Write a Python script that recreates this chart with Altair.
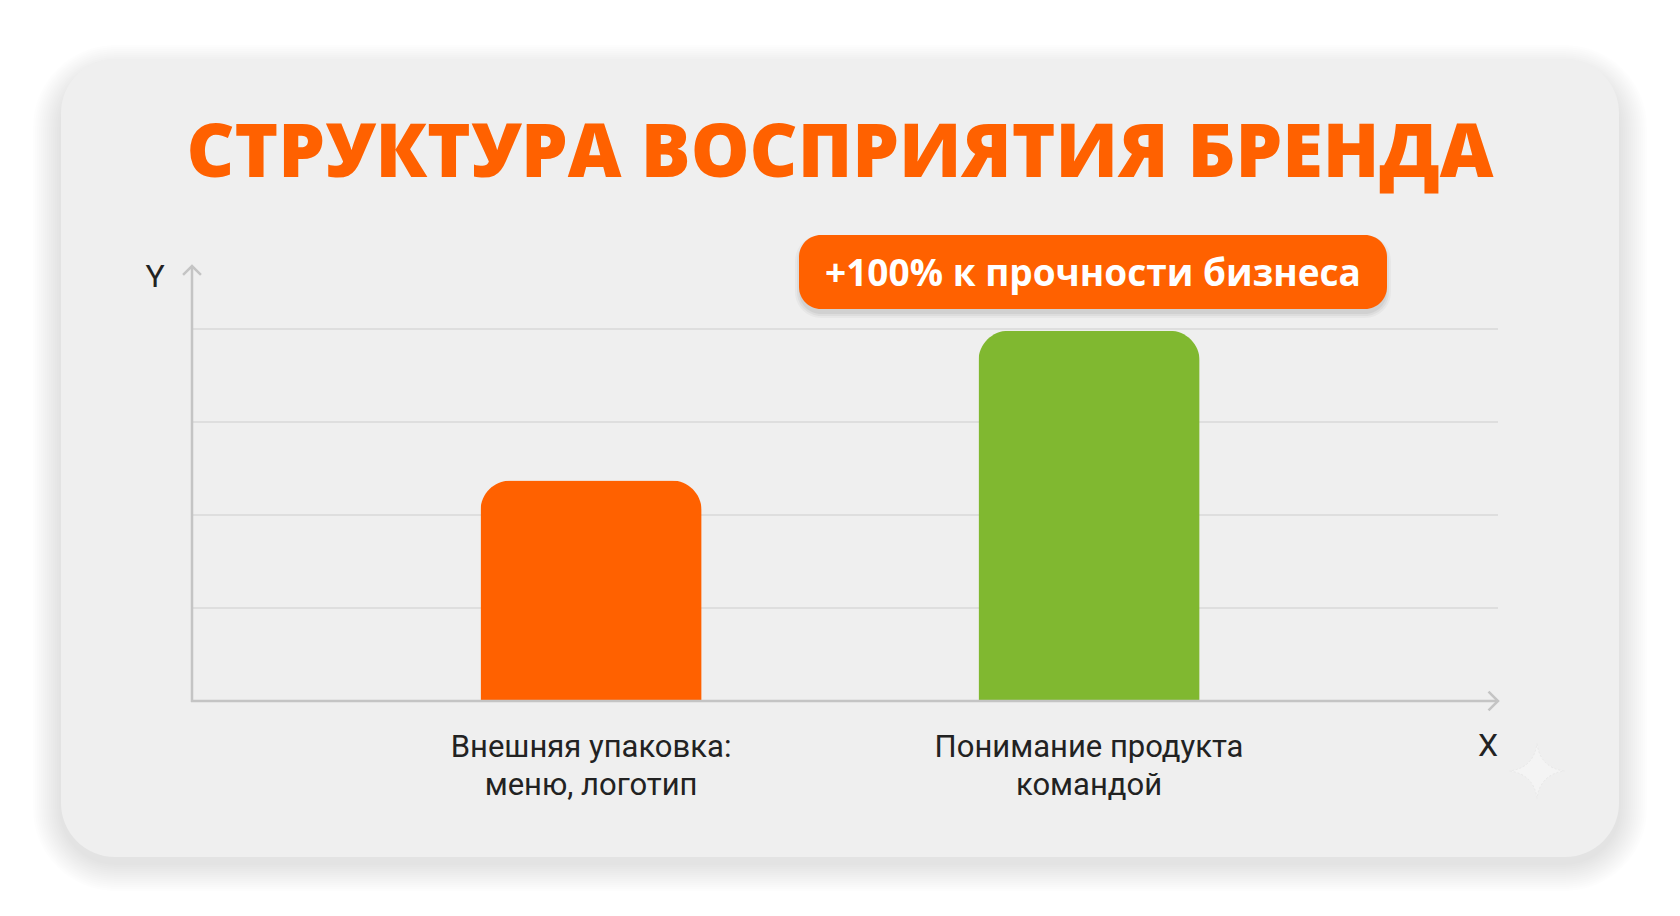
import altair as alt
import pandas as pd

# ---- data ----
categories = ["Внешняя упаковка: меню, логотип", "Понимание продукта командой"]
labels = ["Внешняя упаковка:\nменю, логотип", "Понимание продукта\nкомандой"]
values = [2.37, 3.98]
bar_colors = ["#FF6100", "#80B830"]
grid_values = [1, 2, 3, 4]
title_text = "СТРУКТУРА ВОСПРИЯТИЯ БРЕНДА"
badge_text = "+100% к прочности бизнеса"

bars_df = pd.DataFrame({"cat": categories, "value": values, "label": labels})
grid_df = pd.DataFrame({"value": grid_values})
one = pd.DataFrame({"a": [0]})

W, H = 1680, 916
ORANGE = "#FF6100"

xscale = alt.Scale(domain=categories, range=[480.5, 1199.6], paddingInner=0.556, paddingOuter=0)
yscale = alt.Scale(domain=[0, 4], range=[701, 329], nice=False, zero=True)

layers = []

# card shadow (soft, many faint layers)
for inf in range(2, 30, 2):
    layers.append(
        alt.Chart(one).mark_rect(cornerRadius=54 + inf, color="#000000", opacity=0.007).encode(
            x=alt.value(61 - inf), x2=alt.value(1619 + inf),
            y=alt.value(59 - inf + 14), y2=alt.value(857 + inf + 6),
        )
    )
# card
layers.append(
    alt.Chart(one).mark_rect(cornerRadius=54, color="#EFEFEF").encode(
        x=alt.value(61), x2=alt.value(1619), y=alt.value(59), y2=alt.value(857)
    )
)

# title
layers.append(
    alt.Chart(one).mark_text(
        text=title_text, font="Open Sans", fontWeight=800, fontSize=74,
        color=ORANGE, align="center", baseline="alphabetic"
    ).encode(x=alt.value(840), y=alt.value(177))
)

# gridlines
layers.append(
    alt.Chart(grid_df).mark_rule(color="#D9D9D9", strokeWidth=1.5).encode(
        y=alt.Y("value:Q", scale=yscale, axis=None),
        x=alt.value(192), x2=alt.value(1498),
    )
)

# bars
layers.append(
    alt.Chart(bars_df).mark_bar(cornerRadiusTopLeft=30, cornerRadiusTopRight=30).encode(
        x=alt.X("cat:N", scale=xscale, axis=None, sort=categories),
        y=alt.Y("value:Q", scale=yscale, axis=None),
        color=alt.Color("cat:N", scale=alt.Scale(domain=categories, range=bar_colors), legend=None),
    )
)

# axes
layers.append(
    alt.Chart(one).mark_rule(color="#C4C4C4", strokeWidth=2.5).encode(
        x=alt.value(192), y=alt.value(267), y2=alt.value(702)
    )
)
layers.append(
    alt.Chart(one).mark_rule(color="#C4C4C4", strokeWidth=2.5).encode(
        x=alt.value(191), x2=alt.value(1497), y=alt.value(701)
    )
)
# arrow heads
layers.append(
    alt.Chart(one).mark_point(shape="M-1,1L0,0L1,1", filled=False, size=320,
                              stroke="#C4C4C4", strokeWidth=2.5, opacity=1).encode(
        x=alt.value(192), y=alt.value(266)
    )
)
layers.append(
    alt.Chart(one).mark_point(shape="M-1,-1L0,0L-1,1", filled=False, size=360,
                              stroke="#C4C4C4", strokeWidth=2.5, opacity=1).encode(
        x=alt.value(1498), y=alt.value(701)
    )
)

# axis letters
layers.append(
    alt.Chart(one).mark_text(text="Y", font="Roboto", fontSize=32, color="#222222",
                             align="center", baseline="middle").encode(
        x=alt.value(155), y=alt.value(277)
    )
)
layers.append(
    alt.Chart(one).mark_text(text="X", font="Roboto", fontSize=32, color="#222222",
                             align="center", baseline="middle").encode(
        x=alt.value(1488), y=alt.value(746)
    )
)

# category labels
layers.append(
    alt.Chart(bars_df).mark_text(font="Roboto", fontSize=31, color="#222222", lineBreak="\n",
                                 lineHeight=38, align="center", baseline="middle").encode(
        x=alt.X("cat:N", scale=xscale, axis=None, sort=categories),
        y=alt.value(748),
        text="label:N",
    )
)

# badge shadow + badge
for inf, op in [(4, 0.03), (2, 0.04), (0, 0.05)]:
    layers.append(
        alt.Chart(one).mark_rect(cornerRadius=22 + inf, color="#000000", opacity=op).encode(
            x=alt.value(799 - inf), x2=alt.value(1387 + inf),
            y=alt.value(239 - inf), y2=alt.value(314 + inf)
        )
    )
layers.append(
    alt.Chart(one).mark_rect(cornerRadius=22, color=ORANGE).encode(
        x=alt.value(799), x2=alt.value(1387), y=alt.value(235), y2=alt.value(309)
    )
)
layers.append(
    alt.Chart(one).mark_text(text=badge_text, font="Open Sans", fontWeight=700, fontSize=37,
                             color="#FFFFFF", align="center", baseline="alphabetic").encode(
        x=alt.value(1093), y=alt.value(286)
    )
)

# faint sparkle
layers.append(
    alt.Chart(one).mark_point(
        shape="M0,-1 Q0.12,-0.12 1,0 Q0.12,0.12 0,1 Q-0.12,0.12 -1,0 Q-0.12,-0.12 0,-1 Z",
        filled=True, size=3000, fill="#F4F4F4", stroke="#E8E8E8", strokeWidth=1,
        strokeDash=[2, 2], opacity=1
    ).encode(x=alt.value(1537), y=alt.value(771))
)

chart = alt.layer(*layers).properties(
    width=W, height=H, padding=0, autosize=alt.AutoSizeParams(type="none"),
    background="#FFFFFF"
).configure_view(stroke=None)

chart.save("out.html", embed_options={"renderer": "svg", "actions": False})
